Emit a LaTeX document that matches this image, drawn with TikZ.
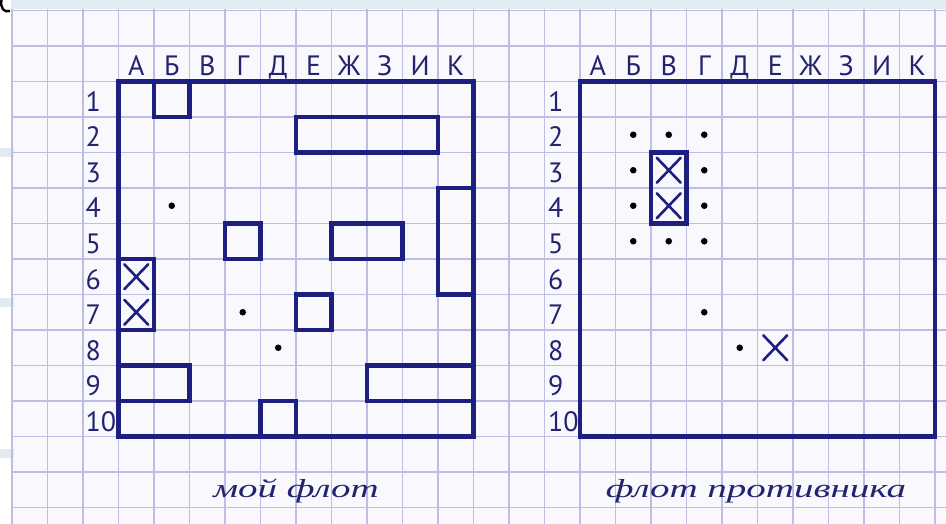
\documentclass[tikz,border=0pt]{standalone}
\usepackage{fontspec}
\setmainfont{Liberation Serif}
\newfontfamily\handfont{PT Sans}
\definecolor{navy}{RGB}{28,30,128}
\definecolor{ink}{RGB}{34,36,112}
\definecolor{gridc}{RGB}{190,190,228}
\definecolor{paper}{RGB}{248,248,253}
\definecolor{bandc}{RGB}{226,235,239}
\newcommand\cellsz{35.5}
\newcommand\topy{81.5}
\newcommand\shipbox[5]{\draw[shipline] ({#1+(#2-1)*\cellsz},{\topy+(#3-1)*\cellsz}) rectangle ({#1+#4*\cellsz},{\topy+#5*\cellsz});}
\newcommand\shotdot[3]{\fill[black] ({#1+(#2-0.5)*\cellsz},{\topy+(#3-0.5)*\cellsz}) circle[radius=3.3pt];}
\newcommand\hitmark[3]{\draw[hitline] ({#1+(#2-0.5)*\cellsz-12},{\topy+(#3-0.5)*\cellsz-12.5}) -- ({#1+(#2-0.5)*\cellsz+12},{\topy+(#3-0.5)*\cellsz+12.5});
  \draw[hitline] ({#1+(#2-0.5)*\cellsz+12},{\topy+(#3-0.5)*\cellsz-12.5}) -- ({#1+(#2-0.5)*\cellsz-12},{\topy+(#3-0.5)*\cellsz+12.5});}
\tikzset{
  gridline/.style={draw=gridc, line width=1.7pt},
  boardline/.style={draw=navy, line width=4.3pt},
  shipline/.style={draw=navy, line width=4.3pt},
  hitline/.style={draw=navy, line width=2.6pt, line cap=round},
  colletter/.style={text=ink, font=\handfont\fontsize{28}{30}\selectfont, anchor=base, inner sep=0pt},
  rownum/.style={text=ink, font=\handfont\fontsize{28}{30}\selectfont, anchor=base west, inner sep=0pt},
  caption/.style={text=ink, font=\itshape\fontsize{26}{28}\selectfont, anchor=base, inner sep=0pt}
}
\begin{document}
\begin{tikzpicture}[x=1pt,y=-1pt]
\useasboundingbox (0,0) rectangle (946,524);
\fill[white] (0,0) rectangle (946,524);
\fill[paper] (11,10) rectangle (946,524);
\fill[bandc] (11,0) rectangle (946,9);
\foreach \yy in {148,298,449} \fill[bandc] (0,\yy) rectangle (14,{\yy+9});
\draw[black, line width=2.4pt] (1.5,0) .. controls (0,8) and (4,13) .. (10,11);
% grid
\foreach \k in {0,...,26} \draw[gridline] ({12+35.5*\k},9) -- ({12+35.5*\k},524);
\foreach \k in {0,...,14} \draw[gridline] (11,{10.5+35.5*\k}) -- (946,{10.5+35.5*\k});
% boards
\foreach \ox/\nm in {118.5/L,580/R}{
  \draw[boardline] (\ox,\topy) rectangle ({\ox+10*\cellsz},{\topy+10*\cellsz});
  \foreach \c/\t in {1/А,2/Б,3/В,4/Г,5/Д,6/Е,7/Ж,8/З,9/И,10/К}
    \node[colletter] (col\nm\c) at ({\ox+(\c-0.5)*\cellsz},76) {\t};
}
\foreach \r in {1,...,10} \node[rownum] (rowL\r) at (85.5,{\topy+\r*\cellsz-5.5}) {\r};
\foreach \r in {1,...,10} \node[rownum] (rowR\r) at (548,{\topy+\r*\cellsz-5.5}) {\r};
% my fleet
\def\ox{118.5}
\shipbox{\ox}{2}{1}{2}{1}
\shipbox{\ox}{6}{2}{9}{2}
\shipbox{\ox}{10}{4}{10}{6}
\shipbox{\ox}{4}{5}{4}{5}
\shipbox{\ox}{7}{5}{8}{5}
\shipbox{\ox}{1}{6}{1}{7}
\shipbox{\ox}{6}{7}{6}{7}
\shipbox{\ox}{1}{9}{2}{9}
\shipbox{\ox}{8}{9}{10}{9}
\shipbox{\ox}{5}{10}{5}{10}
\hitmark{\ox}{1}{6}
\hitmark{\ox}{1}{7}
\shotdot{\ox}{2}{4}
\shotdot{\ox}{4}{7}
\shotdot{\ox}{5}{8}
% enemy fleet
\def\ox{580}
\shipbox{\ox}{3}{3}{3}{4}
\hitmark{\ox}{3}{3}
\hitmark{\ox}{3}{4}
\foreach \c/\r in {2/2,3/2,4/2,2/3,4/3,2/4,4/4,2/5,3/5,4/5,4/7,5/8} {\shotdot{\ox}{\c}{\r}}
\hitmark{\ox}{6}{8}
% captions
\node[caption] (capL) at (296,497) {\scalebox{1.5}[1]{мой флот}};
\node[caption] (capR) at (756,497) {\scalebox{1.5}[1]{флот противника}};
\end{tikzpicture}
\end{document}
